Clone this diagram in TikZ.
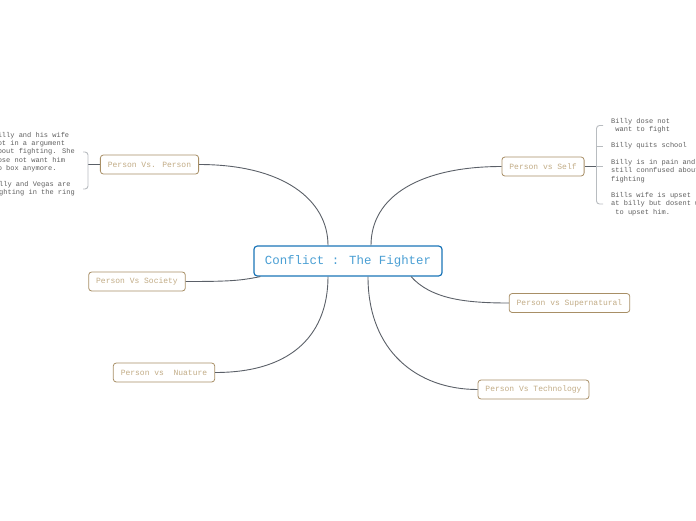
\documentclass[tikz,border=0pt]{standalone}
\usepackage{fontspec}
\setmainfont{Liberation Mono}
\usepackage{tikz}
\usetikzlibrary{positioning}
\definecolor{RootBlue}{HTML}{1B75B8}
\definecolor{RootText}{HTML}{4A9FD4}
\definecolor{TanBorder}{HTML}{A88F66}
\definecolor{TanText}{HTML}{C2AC86}
\definecolor{LinkGray}{HTML}{5B6068}
\definecolor{BraceGray}{HTML}{B8BCC0}
\definecolor{NoteGray}{HTML}{5E5E5E}
\tikzset{
  rootnode/.style={draw=RootBlue,line width=1.2pt,fill=white,rounded corners=3.5pt,
    minimum height=30pt,inner xsep=11pt,
    font=\fontsize{12.4}{14}\selectfont\color{RootText}},
  topicnode/.style={draw=TanBorder,line width=0.8pt,fill=white,rounded corners=3pt,
    minimum height=19pt,inner xsep=7.5pt,
    font=\fontsize{8}{9}\selectfont\color{TanText}},
  notenode/.style={align=left,inner sep=2pt,
    font=\fontsize{7}{8.2}\selectfont\color{NoteGray}},
  link/.style={line width=0.9pt,draw=LinkGray},
  brace/.style={line width=0.9pt,draw=BraceGray,rounded corners=3pt},
}
\begin{document}
\begin{tikzpicture}[x=1pt,y=-1pt]
  \useasboundingbox (0,0) rectangle (696,520);
  \node[rootnode] (root) at (348,261) {Conflict : The Fighter};
  \node[topicnode] (pvp) at (149.5,164.5) {Person Vs. Person};
  \node[topicnode] (pself) at (543,166.5) {Person vs Self};
  \node[topicnode] (psoc) at (137,281.5) {Person Vs Society};
  \node[topicnode] (pnat) at (164,372.5) {Person vs\ \ Nuature};
  \node[topicnode] (psup) at (569.5,303) {Person vs Supernatural};
  \node[topicnode] (ptech) at (533.5,389.5) {Person Vs Technology};
  % notes left
  \node[notenode,anchor=east] (nl1) at (77,152) {Billy and his wife\\got in a argument\\about fighting. She\\dose not want him\\to box anymore.};
  \node[notenode,anchor=east] (nl2) at (77,189) {Billy and Vegas are\\fighting in the ring};
  % notes right
  \node[notenode,anchor=west] (nr1) at (609,125.5) {Billy dose not\\\ want to fight};
  \node[notenode,anchor=west] (nr2) at (609,146) {Billy quits school};
  \node[notenode,anchor=west] (nr3) at (609,171) {Billy is in pain and\\still connfused about\\fighting};
  \node[notenode,anchor=west] (nr4) at (609,204) {Bills wife is upset\\at billy but dosent want\\\ to upset him.};
  % branches
  \draw[link] (pvp.east) .. controls +(85,0) and +(0,-45) .. ([xshift=-20pt]root.north);
  \draw[link] ([xshift=23pt]root.north) .. controls +(0,-50) and +(-80,0) .. (pself.west);
  \draw[link] (psoc.east) .. controls +(45,0) and +(-20,4) .. ([xshift=7pt]root.south west);
  \draw[link] (pnat.east) .. controls +(80,0) and +(0,55) .. ([xshift=-20pt]root.south);
  \draw[link] ([xshift=63pt]root.south) .. controls +(20,22) and +(-45,0) .. (psup.west);
  \draw[link] ([xshift=20pt]root.south) .. controls +(0,75) and +(-60,0) .. (ptech.west);
  % brackets
  \coordinate (lb) at ([xshift=-12pt]pvp.west);
  \draw[link] (pvp.west) -- (lb);
  \draw[brace] ([xshift=6pt]nl1.east) -| (lb) |- ([xshift=6pt]nl2.east);
  \coordinate (rb) at ([xshift=12pt]pself.east);
  \draw[link] (pself.east) -- (rb);
  \draw[brace] ([xshift=-6pt]nr1.west) -| (rb) |- ([xshift=-6pt]nr4.west);
  \draw[brace] (rb |- nr2.west) -- ([xshift=-6pt]nr2.west);
  \draw[brace] (rb) -- ([xshift=-6pt]nr3.west |- rb);
\end{tikzpicture}
\end{document}
